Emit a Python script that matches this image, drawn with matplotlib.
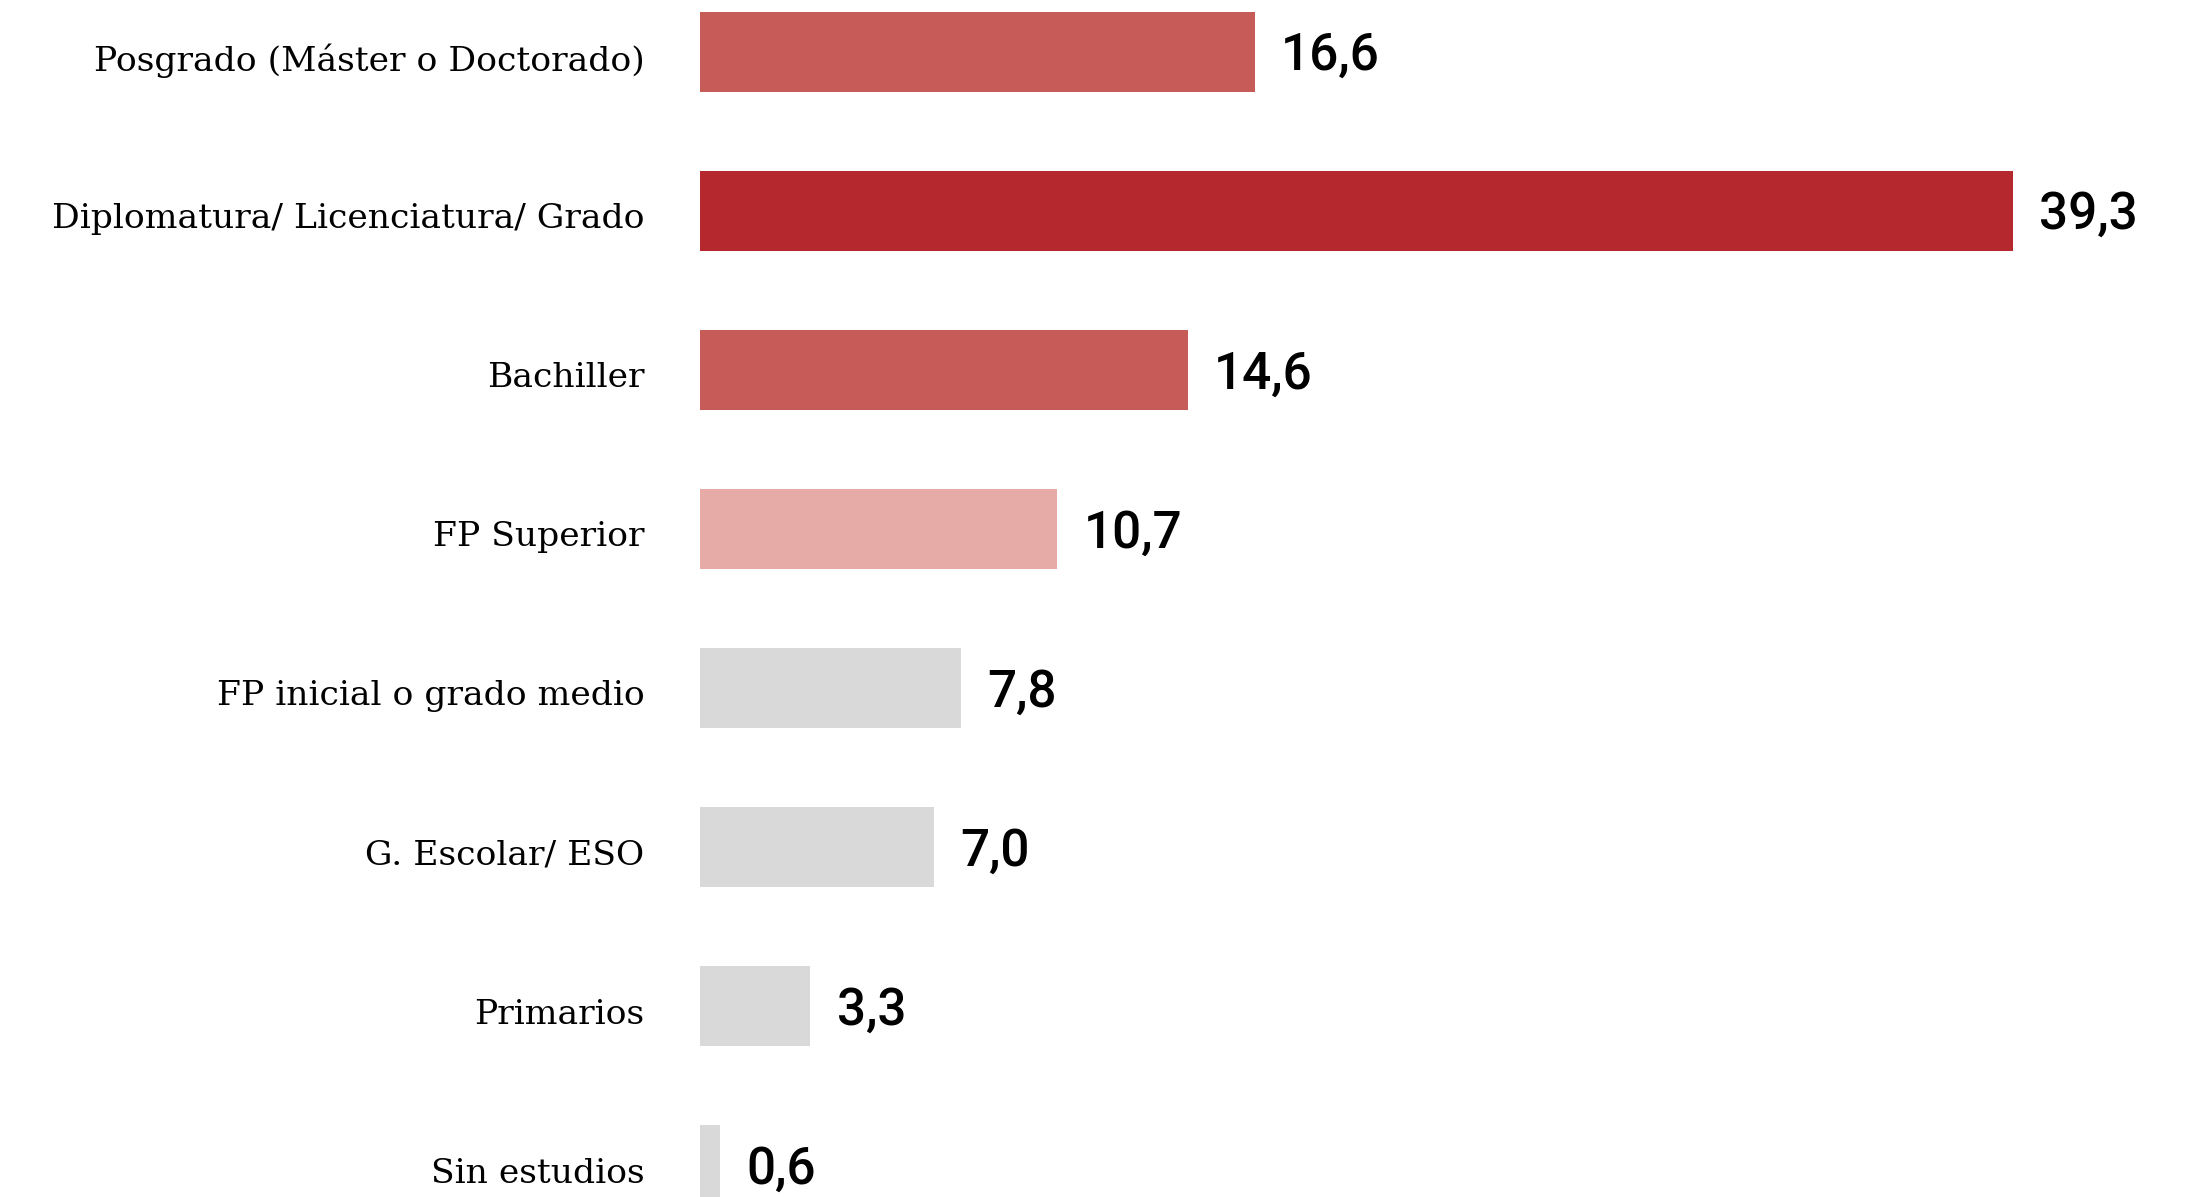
import matplotlib.pyplot as plt

categories = [
    "Posgrado (Máster o Doctorado)",
    "Diplomatura/ Licenciatura/ Grado",
    "Bachiller",
    "FP Superior",
    "FP inicial o grado medio",
    "G. Escolar/ ESO",
    "Primarios",
    "Sin estudios",
]
values = [16.6, 39.3, 14.6, 10.7, 7.8, 7.0, 3.3, 0.6]
value_labels = ["16,6", "39,3", "14,6", "10,7", "7,8", "7,0", "3,3", "0,6"]
colors = ["#C75B57", "#B5282E", "#C75B57", "#E6ABA6",
          "#D9D9D9", "#D9D9D9", "#D9D9D9", "#D9D9D9"]

fig = plt.figure(figsize=(21.87, 11.97), dpi=100)
ax = fig.add_axes([700 / 2187, 0, 1 - 700 / 2187, 1])

ypos = list(range(len(categories)))
ax.barh(ypos, values, height=0.5, color=colors)

for y, v, lab in zip(ypos, values, value_labels):
    ax.annotate(lab, (v, y), xytext=(19, -3), textcoords="offset points",
                ha="left", va="center", fontsize=37, fontfamily="Roboto",
                fontweight="medium", color="black")

# category names, right aligned left of the bars
for y, cat in zip(ypos, categories):
    ax.annotate(cat, (0, y), xytext=(-40, -6), textcoords="offset points",
                ha="right", va="center", fontsize=24.8,
                fontfamily="DejaVu Serif", color="black",
                annotation_clip=False)

ax.set_xlim(0, 44.51)
ax.set_ylim(7.2, -0.327)
ax.set_xticks([])
ax.set_yticks([])
for s in ax.spines.values():
    s.set_visible(False)

fig.savefig("out.png", dpi=100)
